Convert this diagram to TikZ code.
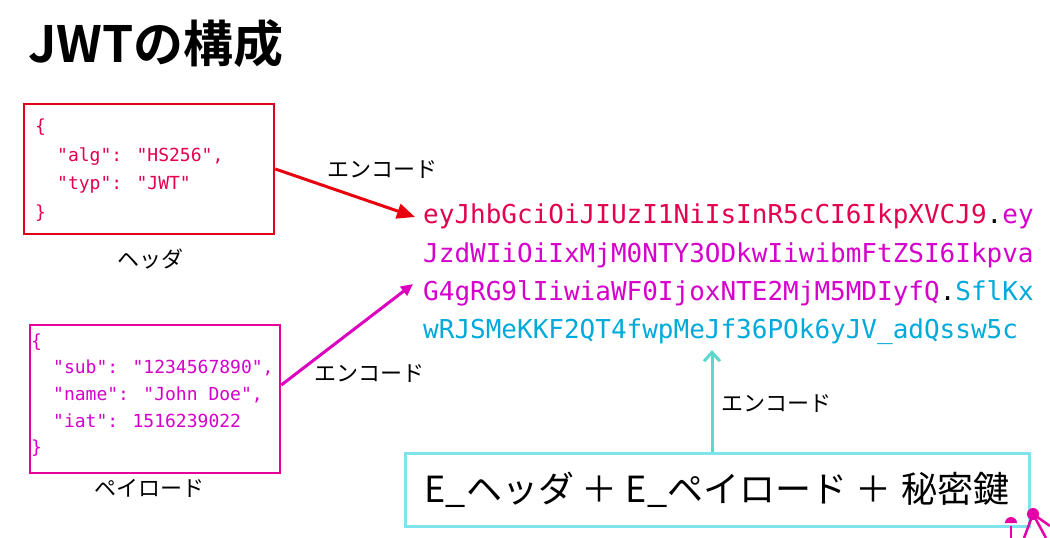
\documentclass[tikz,border=0pt]{standalone}
\usepackage{fontspec}
\setmainfont{Noto Sans CJK JP}[BoldFont={Noto Sans CJK JP Bold}]
\newfontfamily\codefont{DejaVu Sans Mono}
\usetikzlibrary{arrows.meta}
\definecolor{hdrbox}{HTML}{E0001B}
\definecolor{hdrarrow}{HTML}{E8000E}
\definecolor{hdrtxt}{HTML}{E2004F}
\definecolor{plbox}{HTML}{E5009A}
\definecolor{plarrow}{HTML}{DE00C0}
\definecolor{pltxt}{HTML}{D600CC}
\definecolor{sigtxt}{HTML}{00AADB}
\definecolor{sigbox}{HTML}{7FE3EE}
\definecolor{sigarrow}{HTML}{5DD8CA}
\definecolor{deco}{HTML}{E600A8}
\tikzset{
  codeline/.style={anchor=base west, inner sep=0pt, font=\codefont\fontsize{18}{20}\selectfont},
  tokline/.style={anchor=base west, inner sep=0pt, font=\codefont\fontsize{26}{30}\selectfont},
  jplabel/.style={inner sep=0pt, font=\fontsize{22}{26}\selectfont},
  jsonbox/.style={draw, line width=2.6pt, fill=none},
}
\begin{document}
\begin{tikzpicture}[x=1pt,y=-1pt]
\useasboundingbox (0,0) rectangle (1050,538);
\fill[white] (0,0) rectangle (1050,538);

% title
\node[anchor=base west, inner sep=0pt, font=\bfseries\fontsize{50}{60}\selectfont] (title) at (28,62) {JWTの構成};

% header box
\node[jsonbox, draw=hdrbox, minimum width=250pt, minimum height=130pt] (hbox) at (149,169) {};
\node[codeline, text=hdrtxt] (h1) at (35,132) {\{};
\node[codeline, text=hdrtxt] (h2) at (57,161) {"alg": "HS256",};
\node[codeline, text=hdrtxt] (h3) at (57,189) {"typ": "JWT"};
\node[codeline, text=hdrtxt] (h4) at (35,218) {\}};
\node[jplabel] (hlabel) at (150,259) {ヘッダ};

% payload box
\node[jsonbox, draw=plbox, minimum width=250pt, minimum height=148pt] (pbox) at (155,399) {};
\node[codeline, text=pltxt] (p1) at (31,347) {\{};
\node[codeline, text=pltxt] (p2) at (53,373) {"sub": "1234567890",};
\node[codeline, text=pltxt] (p3) at (53,400) {"name": "John Doe",};
\node[codeline, text=pltxt] (p4) at (53,427) {"iat": 1516239022};
\node[codeline, text=pltxt] (p5) at (31,453) {\}};
\node[jplabel] (plabel) at (149,488) {ペイロード};

% token
\node[tokline] (t1) at (423,223) {\textcolor{hdrtxt}{eyJhbGciOiJIUzI1NiIsInR5cCI6IkpXVCJ9}\textcolor{black}{.}\textcolor{pltxt}{ey}};
\node[tokline, text=pltxt] (t2) at (423,262) {JzdWIiOiIxMjM0NTY3ODkwIiwibmFtZSI6Ikpva};
\node[tokline] (t3) at (423,300) {\textcolor{pltxt}{G4gRG9lIiwiaWF0IjoxNTE2MjM5MDIyfQ}\textcolor{black}{.}\textcolor{sigtxt}{SflKx}};
\node[tokline, text=sigtxt] (t4) at (423,338) {wRJSMeKKF2QT4fwpMeJf36POk6yJV\_adQssw5c};

% signature source box
\node[draw=sigbox, line width=3pt, minimum width=624pt, minimum height=73pt, inner sep=0pt,
      font=\fontsize{36}{40}\selectfont] (sbox) at (717,489.5)
  {E\_ヘッダ\hspace{8pt}＋\hspace{8pt}E\_ペイロード\hspace{8pt}＋\hspace{10pt}秘密鍵};

% arrow endpoints
\coordinate (a1end) at (415,217);
\coordinate (a2end) at (413,284);
\coordinate (a3end) at (712,350);

% arrows
\draw[hdrarrow, line width=3pt, -{Triangle[length=18pt,width=15pt]}] (hbox.east) -- (a1end);
\draw[plarrow, line width=3pt, -{Triangle[length=12pt,width=11pt]}] ([yshift=14pt]pbox.east) -- (a2end);
\draw[sigarrow, line width=3pt, -{Straight Barb[length=9pt,width=16pt]}] ([xshift=-5pt]sbox.north) -- (a3end);

% arrow labels
\node[jplabel] (enc1) at (382,170) {エンコード};
\node[jplabel] (enc2) at (369,373) {エンコード};
\node[jplabel] (enc3) at (776,403) {エンコード};

% corner decoration (cropped icon)
\fill[deco] (1033,514) circle (6);
\draw[deco, line width=2.5pt] (1033,514) -- (1024,538);
\draw[deco, line width=2.5pt] (1033,514) -- (1046,538);
\draw[deco, line width=2.5pt] (1033,514) -- (1050,526);
\fill[deco] (1005,523) -- (1017,523) arc (0:-180:6) -- cycle;
\draw[deco, line width=2pt] (1011,526) -- (1011,538);
\end{tikzpicture}
\end{document}
